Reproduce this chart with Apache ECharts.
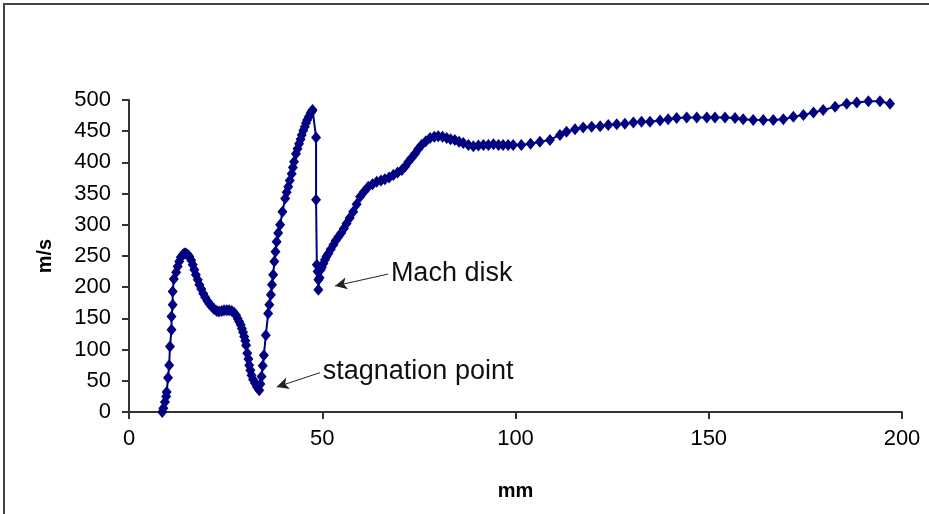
<!DOCTYPE html>
<html>
<head>
<meta charset="utf-8">
<script src="https://cdn.jsdelivr.net/npm/echarts@6/dist/echarts.min.js"></script>
<style>
  html, body { margin: 0; padding: 0; background: #fff; }
  #main { width: 929px; height: 514px; }
</style>
</head>
<body>
<div id="main"></div>
<script>
// distance along the jet (mm)
var mm = [
  8.6, 8.9, 9.3, 9.6, 9.75, 10.1, 10.4, 10.6, 11.0, 11.0, 11.3, 11.3, 11.6, 12.2, 12.6, 13.0, 13.4, 13.9, 14.3, 14.7,
  15.2, 15.6, 16.1, 16.5, 16.9, 17.3, 17.8, 18.2, 18.7, 19.2, 19.7, 20.3, 20.8, 21.4, 22.0, 22.7, 23.3, 24.0, 24.6, 25.3,
  25.9, 26.6, 27.2, 27.7, 28.1, 28.5, 28.9, 29.2, 29.5, 29.8, 30.1, 30.3, 30.6, 30.9, 31.1, 31.4, 31.7, 32.1, 32.6, 33.1,
  33.7, 34.0, 34.3, 34.6, 34.9, 35.4, 36.0, 36.3, 36.7, 37.0, 37.3, 37.6, 37.9, 38.2, 38.6, 39.1, 39.7, 40.4, 40.8, 41.2,
  41.6, 42.1, 42.4, 42.7, 43.2, 43.6, 44.0, 44.4, 44.7, 45.1, 45.5, 45.8, 46.1, 46.5, 47.0, 47.3, 47.5, 48.4, 48.4, 48.6,
  48.8, 49.0, 49.0, 49.3, 49.6, 49.9, 50.3, 50.7, 51.1, 51.6, 52.2, 52.9, 53.5, 54.2, 54.9, 55.6, 56.3, 57.1, 58.0, 58.9,
  59.8, 60.8, 61.9, 63.0, 64.1, 65.2, 66.2, 67.3, 68.4, 69.5, 70.6, 71.5, 72.3, 73.1, 74.0, 74.8, 75.7, 76.8, 77.9, 79.0,
  80.0, 81.1, 82.2, 83.2, 84.3, 85.4, 86.5, 87.8, 89.1, 90.4, 91.7, 93.0, 94.3, 95.6, 96.8, 98.1, 99.4, 101.5, 103.9, 106.3,
  108.9, 111.5, 113.2, 115.4, 117.5, 119.7, 121.9, 124.0, 126.2, 128.3, 130.5, 132.6, 134.8, 137.4, 139.5, 141.7, 144.3, 146.9, 149.5, 151.6,
  154.2, 156.8, 158.9, 161.5, 164.1, 166.7, 169.3, 171.9, 174.5, 177.1, 179.6, 182.7, 185.7, 188.3, 191.3, 194.3, 196.9
];
// velocity (m/s)
var velocity = [
  0, 6, 16, 25, 32, 55, 75, 105, 132, 153, 172, 193, 213, 224, 233, 241, 248, 252, 254, 254,
  252, 249, 243, 236, 228, 220, 212, 204, 197, 190, 184, 178, 173, 169, 165, 162, 161, 162, 163, 163,
  163, 162, 159, 155, 150, 145, 140, 134, 128, 121, 114, 107, 94, 85, 75, 67, 59, 52, 46, 40,
  35, 45, 57, 74, 91, 123, 158, 172, 188, 204, 220, 241, 257, 273, 287, 300, 321, 342, 352, 361,
  371, 382, 392, 401, 414, 422, 430, 437, 444, 451, 457, 463, 468, 473, 479, 482, 484, 440, 340, 236,
  225, 212, 196, 215, 228, 232, 238, 244, 249, 254, 261, 268, 275, 281, 287, 294, 302, 311, 321, 333,
  345, 353, 361, 365, 369, 371, 373, 376, 380, 384, 388, 394, 401, 407, 414, 421, 428, 434, 439, 441,
  442, 441, 439, 437, 436, 433, 431, 428, 426, 427, 428, 428, 429, 428, 428, 428, 428, 428, 430, 433,
  436, 444, 449, 453, 456, 457, 458, 460, 461, 462, 464, 465, 465, 467, 469, 471, 472, 472, 472, 472,
  472, 471, 469, 468, 468, 468, 469, 473, 476, 480, 484, 489, 494, 496, 498, 498, 494
];
// annotations: [label, arrow tail, arrow tip] in data units
var notes = [
  ['stagnation point', [49.4, 63], [38.2, 40]],
  ['Mach disk', [67.0, 221], [53.3, 202]]
];

var seriesData = mm.map(function (x, i) { return [x, velocity[i]]; });

var myChart = echarts.init(document.getElementById('main'));
var axisFont = { fontFamily: 'Liberation Sans', fontSize: 22, color: '#000' };

myChart.setOption({
  animation: false,
  backgroundColor: '#fff',
  graphic: [{
    type: 'rect',
    shape: { x: 4, y: 4, width: 960, height: 560 },
    style: { fill: 'none', stroke: '#444', lineWidth: 2 }
  }],
  grid: { left: 129, right: 27, top: 100, bottom: 102 },
  xAxis: {
    type: 'value',
    min: 0, max: 200, interval: 50,
    name: 'mm',
    nameLocation: 'middle',
    nameGap: 69,
    nameTextStyle: { fontFamily: 'Liberation Sans', fontSize: 20, fontWeight: 'bold', color: '#000' },
    axisLine: { lineStyle: { color: '#333', width: 2 } },
    axisTick: { inside: false, length: 7, lineStyle: { color: '#333', width: 2 } },
    axisLabel: Object.assign({ margin: 16 }, axisFont),
    splitLine: { show: false }
  },
  yAxis: {
    type: 'value',
    min: 0, max: 500, interval: 50,
    name: 'm/s',
    nameLocation: 'middle',
    nameGap: 74,
    nameTextStyle: { fontFamily: 'Liberation Sans', fontSize: 20, fontWeight: 'bold', color: '#000' },
    axisLine: { show: true, lineStyle: { color: '#333', width: 2 } },
    axisTick: { show: true, inside: false, length: 7, lineStyle: { color: '#333', width: 2 } },
    axisLabel: Object.assign({ margin: 18 }, axisFont),
    splitLine: { show: false }
  },
  series: [{
    type: 'line',
    data: seriesData,
    symbol: 'diamond',
    symbolSize: [10, 12],
    itemStyle: { color: '#000080' },
    lineStyle: { color: '#000080', width: 2 },
    markLine: {
      silent: true,
      symbol: ['none', 'arrow'],
      symbolSize: [9, 12],
      lineStyle: { color: '#222', width: 1, type: 'solid' },
      label: {
        show: true,
        position: 'start',
        distance: 3,
        fontFamily: 'Liberation Sans',
        fontSize: 27,
        color: '#111',
        formatter: function (p) { return p.name; }
      },
      data: notes.map(function (n) {
        return [{ name: n[0], coord: n[1] }, { coord: n[2] }];
      })
    }
  }]
});
</script>
</body>
</html>
